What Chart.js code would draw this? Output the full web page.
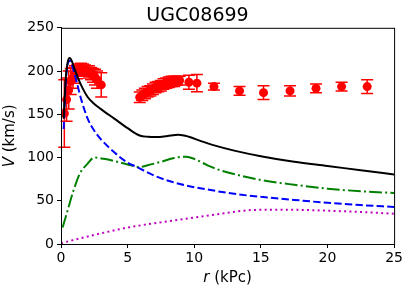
<!DOCTYPE html>
<html>
<head>
<meta charset="utf-8">
<script src="https://cdn.jsdelivr.net/npm/chart.js@4/dist/chart.umd.min.js"></script>
<style>
  html, body { margin: 0; padding: 0; background: #fff; }
</style>
</head>
<body>
<canvas id="rc" width="405" height="289"></canvas>
<script>
// observed rotation curve (r in kPc, V and error in km/s)
const obsR = [0.25, 0.42, 0.58, 0.73, 0.9, 1.05, 1.2, 1.35, 1.5, 1.65, 1.8, 1.95, 2.1, 2.25, 2.4, 2.55, 2.7, 3.02,
    5.91, 6.1, 6.3, 6.5, 6.7, 6.9, 7.1, 7.3, 7.5, 7.7, 7.9, 8.1, 8.3, 8.5, 8.7, 8.9, 9.6, 10.2,
    11.48, 13.4, 15.2, 17.19, 19.14, 21.06, 22.98];
const obsV = [151, 167, 178, 188, 192, 196, 199, 201, 202, 202, 201, 200, 199, 197, 195, 193, 190, 184,
    169.7, 172, 174, 176, 177, 179, 181, 182, 183, 185, 186, 187, 188, 188, 189, 189, 187, 186,
    182, 177, 175, 177, 180, 182, 182];
const obsErr = [39, 25, 22, 15, 12, 10, 8, 7, 7, 6, 6, 6, 7, 7, 8, 9, 10, 14,
    6, 6, 6, 6, 6, 6, 6, 6, 6, 6, 6, 6, 6, 6, 5, 5, 8, 10,
    4, 5, 8, 6, 5, 5, 8];

// total model (black)
const totR = [0.2, 0.35, 0.5, 0.65, 0.8, 1.0, 1.2, 1.5, 2, 2.5, 3, 4, 5, 5.9, 6.5, 7.2, 8, 8.8, 9.6, 10.5, 11.5, 13, 15, 17.5, 20, 22.5, 25];
const totV = [145, 190, 210, 215, 212, 203, 195, 184, 170, 162, 156, 145, 134, 125.5, 124, 123.6, 125, 126.3, 124, 119, 114, 108, 101.5, 95, 90.2, 85.3, 80.5];

// bulge (blue dashed)
const bulR = [0.2, 0.35, 0.5, 0.65, 0.8, 1.0, 1.2, 1.5, 2, 2.5, 3, 4, 5, 5.7, 7, 9, 11, 13, 15, 17.5, 20, 22.5, 25];
const bulV = [133, 185, 208, 212, 208, 198, 186, 168, 145, 131, 121, 106, 94, 89, 79, 69, 63, 58, 54.5, 51, 47.6, 45, 42.8];

// disk (green dash-dot)
const dskR = [0.12, 0.5, 0.9, 1.4, 2.0, 2.5, 3.2, 4.0, 5.0, 5.9, 6.5, 7.5, 8.5, 9.4, 10, 11, 12, 13.5, 15, 17.5, 20, 22.5, 25];
const dskV = [19, 39, 60, 81, 93, 100, 98.5, 96, 92, 89, 91, 95, 99.5, 101, 98.5, 91, 85, 79, 74, 68.5, 64, 61, 59];

// gas (magenta dotted)
const gasR = [0, 2.5, 5, 7.5, 10, 12.5, 14, 15, 17.5, 20, 22.5, 25];
const gasV = [1, 10.5, 19, 25, 30.5, 36, 39, 39.5, 39.5, 38.5, 37, 35];

const xTicks = [0, 5, 10, 15, 20, 25];
const yTicks = [0, 50, 100, 150, 200, 250];

const pts = (xs, ys) => xs.map((x, i) => ({ x: x, y: ys[i] }));
const FONT = 'DejaVu Sans';

function curve(xs, ys, color, dash) {
    return {
        data: pts(xs, ys),
        showLine: true,
        borderColor: color,
        borderWidth: 2,
        borderDash: dash,
        pointRadius: 0,
        cubicInterpolationMode: 'monotone',
        fill: false
    };
}

// error bars under the red markers, box and axis labels on top
const extras = {
    id: 'extras',
    beforeDatasetDraw(chart, args) {
        if (args.index !== 4) return;
        const { ctx, scales: { x, y } } = chart;
        ctx.save();
        ctx.strokeStyle = '#ff0000';
        ctx.lineWidth = 1.5;
        obsR.forEach((r, i) => {
            const px = x.getPixelForValue(r);
            const top = y.getPixelForValue(obsV[i] + obsErr[i]);
            const bot = y.getPixelForValue(obsV[i] - obsErr[i]);
            ctx.beginPath();
            ctx.moveTo(px, top); ctx.lineTo(px, bot);
            ctx.moveTo(px - 6, top); ctx.lineTo(px + 6, top);
            ctx.moveTo(px - 6, bot); ctx.lineTo(px + 6, bot);
            ctx.stroke();
        });
        ctx.restore();
    },
    afterDraw(chart) {
        const { ctx, chartArea: a } = chart;
        ctx.save();
        ctx.strokeStyle = '#000';
        ctx.lineWidth = 1;
        ctx.strokeRect(a.left + 0.5, a.top + 0.5, a.right - a.left, a.bottom - a.top);

        ctx.fillStyle = '#000';
        ctx.textBaseline = 'middle';
        // x label: italic r
        const it = 'italic 15px ' + FONT, rm = '15px ' + FONT;
        ctx.font = it; const w1 = ctx.measureText('r').width;
        ctx.font = rm; const w2 = ctx.measureText(' (kPc)').width;
        let sx = (a.left + a.right) / 2 - (w1 + w2) / 2;
        ctx.font = it; ctx.textAlign = 'left'; ctx.fillText('r', sx, 278);
        ctx.font = rm; ctx.fillText(' (kPc)', sx + w1, 278);
        // y label: italic V
        ctx.translate(10, (a.top + a.bottom) / 2);
        ctx.rotate(-Math.PI / 2);
        ctx.font = it; const v1 = ctx.measureText('V').width;
        ctx.font = rm; const v2 = ctx.measureText(' (km/s)').width;
        sx = -(v1 + v2) / 2;
        ctx.font = it; ctx.fillText('V', sx, 0);
        ctx.font = rm; ctx.fillText(' (km/s)', sx + v1, 0);
        ctx.restore();
    }
};

new Chart(document.getElementById('rc'), {
    type: 'scatter',
    data: {
        datasets: [
            curve(totR, totV, '#000000', []),
            curve(bulR, bulV, '#0000ff', [7.4, 3.2]),
            curve(dskR, dskV, '#008000', [12.8, 3.2, 2, 3.2]),
            curve(gasR, gasV, '#bf00bf', [2, 3.3]),
            {
                data: pts(obsR, obsV),
                backgroundColor: '#ff0000',
                borderColor: '#ff0000',
                pointRadius: 4.5,
                borderWidth: 0
            }
        ]
    },
    plugins: [extras],
    options: {
        responsive: false,
        animation: false,
        maintainAspectRatio: false,
        layout: { padding: { left: 0, right: 10, top: 0, bottom: 0 } },
        plugins: {
            legend: { display: false },
            tooltip: { enabled: false },
            title: {
                display: true,
                text: 'UGC08699',
                color: '#000',
                font: { family: FONT, size: 19, weight: 'normal' },
                padding: { top: 5, bottom: 0 }
            }
        },
        scales: {
            x: {
                type: 'linear',
                min: 0, max: 25,
                afterBuildTicks: s => { s.ticks = xTicks.map(v => ({ value: v })); },
                afterFit: s => { s.height = 45; },
                grid: { drawOnChartArea: false, drawTicks: true, tickLength: 4, color: '#000' },
                border: { display: true, color: '#000' },
                ticks: { color: '#000', font: { family: FONT, size: 14 }, padding: 2, maxRotation: 0 }
            },
            y: {
                type: 'linear',
                min: 0, max: 250,
                afterBuildTicks: s => { s.ticks = yTicks.map(v => ({ value: v })); },
                afterFit: s => { s.width = 61; },
                grid: { drawOnChartArea: false, drawTicks: true, tickLength: 4, color: '#000' },
                border: { display: true, color: '#000' },
                ticks: { color: '#000', font: { family: FONT, size: 14 }, padding: 3 }
            }
        }
    }
});
</script>
</body>
</html>
